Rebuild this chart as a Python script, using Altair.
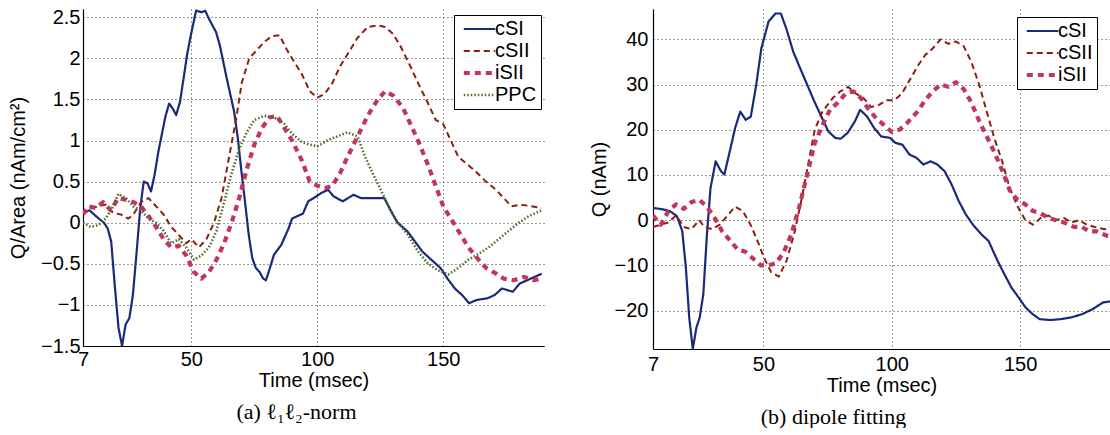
import altair as alt
import pandas as pd

FONT = "Liberation Sans, Arial, Helvetica, sans-serif"
SERIF = "Liberation Serif, DejaVu Serif, serif"

TIME_TICKS = [7, 50, 100, 150]
A_Y_TICKS = [-1.5, -1, -0.5, 0, 0.5, 1, 1.5, 2, 2.5]
B_Y_TICKS = [-20, -10, 0, 10, 20, 30, 40]
SERIES_A = ["cSI", "cSII", "iSII", "PPC"]
SERIES_B = ["cSI", "cSII", "iSII"]

COLORS = {"cSI": "#1b2a78", "cSII": "#8e1d12", "iSII": "#c2355f", "PPC": "#4f6d2c"}
DASHES = {"cSI": [1, 0], "cSII": [6, 4], "iSII": [6, 5], "PPC": [1.5, 2]}
WIDTHS = {"cSI": 2.2, "cSII": 2.0, "iSII": 4.2, "PPC": 2.6}

# (a) l1l2-norm : (time msec, Q/Area nAm/cm^2)
A_cSI = [(7, 0.13), (9.6, 0.15), (12.5, 0.07), (15.3, 0.0), (16.8, -0.07), (18.2, -0.23),
         (19.6, -0.76), (21.1, -1.28), (22.5, -1.5), (23.9, -1.24), (25.4, -1.16), (26.8, -0.88),
         (28.2, -0.39), (29.7, 0.17), (31.1, 0.5), (32.6, 0.48), (34.0, 0.38), (35.4, 0.58),
         (36.9, 0.86), (39.7, 1.29), (41.2, 1.45), (42.6, 1.39), (44.0, 1.31), (45.5, 1.47),
         (46.9, 1.75), (48.3, 2.04), (49.8, 2.28), (51.9, 2.58), (54.1, 2.56), (55.5, 2.58),
         (57.0, 2.48), (59.8, 2.32), (61.3, 2.16), (64.1, 1.75), (67.0, 1.35), (68.5, 1.02),
         (69.9, 0.62), (71.3, 0.26), (72.8, -0.15), (74.2, -0.43), (75.6, -0.55), (77.1, -0.6),
         (78.5, -0.68), (79.6, -0.7), (80.7, -0.6), (82.8, -0.39), (85.7, -0.27), (88.6, -0.07),
         (90.0, 0.05), (91.4, 0.07), (94.3, 0.11), (96.4, 0.26), (98.6, 0.3), (101.5, 0.36),
         (104.3, 0.4), (106.5, 0.32), (110.1, 0.26), (114.4, 0.34), (117.3, 0.3), (121.6, 0.3),
         (126.6, 0.3), (128.8, 0.17), (131.6, 0.01), (135.9, -0.11), (138.8, -0.23),
         (141.7, -0.35), (144.5, -0.43), (148.9, -0.55), (151.7, -0.68), (154.6, -0.8),
         (157.5, -0.88), (160.3, -0.98), (163.2, -0.94), (167.5, -0.92), (170.4, -0.88),
         (173.3, -0.8), (177.6, -0.84), (180.4, -0.74), (183.3, -0.7), (186.2, -0.66),
         (189.1, -0.62)]
A_cSII = [(7, 0.1), (10, 0.17), (13, 0.2), (16, 0.22), (19, 0.12), (22, 0.1), (25, 0.05),
          (27, 0.1), (30, 0.25), (33, 0.3), (36, 0.2), (39, 0.1), (42, -0.05), (45, -0.15),
          (48, -0.25), (50, -0.2), (53, -0.3), (56, -0.2), (59, 0.0), (62, 0.3), (65, 0.8),
          (68, 1.3), (70, 1.7), (73, 2.0), (76, 2.1), (79, 2.2), (82, 2.27), (85, 2.28),
          (88, 2.1), (91, 1.95), (94, 1.8), (97, 1.6), (100, 1.52), (103, 1.57), (106, 1.7),
          (109, 1.9), (112, 2.05), (116, 2.25), (120, 2.38), (124, 2.4), (127, 2.38),
          (130, 2.3), (133, 2.15), (137, 1.9), (140, 1.7), (144, 1.45), (147, 1.25),
          (150, 1.2), (153, 1.0), (156, 0.8), (160, 0.7), (163, 0.62), (167, 0.5), (171, 0.4),
          (174, 0.3), (177, 0.2), (181, 0.22), (185, 0.2), (189, 0.18)]
A_iSII = [(7, 0.1), (9, 0.2), (12, 0.18), (15, 0.25), (18, 0.15), (21, 0.3), (24, 0.28),
          (27, 0.25), (30, 0.2), (33, 0.08), (36, -0.05), (39, -0.2), (42, -0.3), (45, -0.28),
          (48, -0.4), (51, -0.6), (54, -0.68), (57, -0.6), (60, -0.45), (63, -0.25), (66, 0.0),
          (69, 0.3), (72, 0.65), (75, 0.95), (78, 1.15), (81, 1.28), (84, 1.3), (87, 1.15),
          (90, 1.0), (94, 0.75), (97, 0.5), (100, 0.45), (103, 0.42), (106, 0.45), (109, 0.6),
          (112, 0.8), (116, 1.05), (120, 1.3), (124, 1.5), (127, 1.6), (130, 1.55), (134, 1.4),
          (137, 1.2), (140, 1.0), (144, 0.7), (147, 0.45), (150, 0.2), (154, 0.0), (157, -0.15),
          (160, -0.3), (164, -0.45), (167, -0.55), (171, -0.62), (174, -0.68), (178, -0.7),
          (182, -0.66), (186, -0.7), (189, -0.68)]
A_PPC = [(7, 0.0), (10, -0.05), (13, -0.03), (16, 0.05), (19, 0.2), (21, 0.35), (24, 0.3),
         (27, 0.2), (30, 0.15), (33, 0.05), (36, 0.0), (39, -0.1), (42, -0.25), (45, -0.2),
         (48, -0.3), (51, -0.45), (54, -0.4), (57, -0.3), (60, -0.1), (63, 0.25), (66, 0.6),
         (69, 0.9), (72, 1.1), (75, 1.25), (79, 1.3), (83, 1.28), (87, 1.2), (90, 1.08),
         (94, 0.98), (97, 0.95), (100, 0.93), (104, 1.0), (108, 1.05), (112, 1.1), (116, 1.05),
         (119, 0.8), (122, 0.6), (126, 0.35), (129, 0.15), (132, 0.0), (136, -0.15),
         (140, -0.35), (144, -0.5), (148, -0.58), (152, -0.63), (156, -0.55), (160, -0.45),
         (164, -0.38), (168, -0.3), (172, -0.2), (176, -0.1), (180, 0.0), (184, 0.08),
         (189, 0.15)]

# (b) dipole fitting : (time msec, Q nAm)
B_cSI = [(7, 2.7), (10.8, 2.4), (13.6, 2.0), (16.3, 0.9), (18.4, -2.4), (19.8, -10.5),
         (21.1, -21.5), (22.5, -28.5), (23.9, -23.8), (25.2, -21.5), (26.6, -16.4), (28, -3.2),
         (29.4, 7.1), (31.4, 13.0), (33.5, 10.8), (34.8, 10.1), (36.9, 15.2), (39, 20.4),
         (41, 24.0), (43.1, 22.2), (45.1, 22.9), (47.2, 29.9), (49.2, 38.0), (52, 43.9),
         (54.7, 45.7), (56.8, 45.7), (58.9, 42.4), (61.6, 37.3), (64.3, 33.6), (67.1, 29.9),
         (69.8, 26.3), (72.6, 22.9), (75.3, 19.6), (78, 18.2), (80.1, 18.0), (82.8, 19.3),
         (85.6, 21.8), (87.7, 24.4), (90.4, 22.9), (93.1, 20.4), (95.9, 18.5), (99.3, 18.2),
         (101.4, 17.1), (104.1, 16.7), (106.9, 14.5), (109.6, 13.8), (112.3, 12.3),
         (115.1, 13.0), (117.8, 12.3), (120.6, 10.8), (123.3, 7.9), (126.1, 4.2), (128.8, 1.3),
         (131.6, -1.0), (135, -3.2), (137.7, -4.6), (141.2, -9.0), (143.9, -12.0),
         (146.6, -14.9), (149.4, -17.1), (152.1, -19.3), (154.9, -20.8), (157.6, -21.9),
         (161.7, -22.1), (165.8, -21.9), (170, -21.5), (174.1, -20.8), (178.2, -19.7),
         (182.3, -18.2), (186.1, -17.9), (190, -17.5)]
B_cSII = [(7, -1.5), (10, -1.0), (13, -0.5), (16, 1.0), (19, -1.5), (22, -2.0), (25, 0.0),
          (27, -1.5), (30, -2.0), (33, -1.0), (36, 1.0), (39, 3.0), (42, 2.0), (45, -1.0),
          (48, -5.0), (50, -8.0), (53, -11.5), (56, -12.5), (59, -9.0), (62, -3.0), (65, 5.0),
          (68, 14.0), (70, 20.0), (73, 24.0), (77, 27.0), (80, 28.5), (83, 29.5), (86, 28.0),
          (89, 27.0), (92, 25.0), (95, 25.5), (98, 26.5), (101, 26.5), (104, 28.0), (107, 31.0),
          (110, 34.0), (113, 36.5), (116, 38.0), (119, 40.0), (122, 39.0), (125, 39.5),
          (128, 38.5), (131, 35.0), (134, 30.0), (137, 24.0), (140, 18.0), (143, 13.0),
          (146, 7.0), (149, 3.0), (152, 0.0), (155, -1.0), (158, 0.5), (161, 1.0), (164, 0.0),
          (167, 0.5), (170, -0.5), (173, 0.0), (176, -1.0), (179, -1.5), (183, -2.0),
          (186, -1.5), (190, -3.0)]
B_iSII = [(7, 1.0), (10, -1.0), (13, 2.0), (16, 3.5), (19, 2.5), (22, 4.0), (25, 4.5),
          (28, 3.0), (31, 0.5), (34, -2.5), (37, -4.5), (40, -6.5), (43, -7.0), (46, -8.5),
          (49, -10.0), (52, -10.0), (55, -9.5), (58, -7.0), (61, -3.0), (64, 3.0), (67, 10.0),
          (70, 17.0), (73, 21.0), (76, 24.5), (79, 26.0), (82, 28.0), (85, 28.5), (88, 27.0),
          (91, 24.5), (94, 22.5), (97, 21.0), (100, 19.5), (103, 20.0), (106, 21.5),
          (110, 24.0), (113, 26.5), (116, 28.5), (119, 30.0), (122, 29.5), (125, 30.5),
          (128, 29.0), (131, 26.0), (134, 22.0), (137, 18.5), (140, 15.0), (143, 11.0),
          (146, 6.5), (149, 4.5), (152, 3.5), (155, 2.0), (158, 1.5), (161, 0.5), (164, 0.0),
          (167, -0.5), (171, -1.5), (174, -1.5), (177, -2.5), (180, -2.5), (184, -3.5),
          (188, -4.0), (190, -4.5)]


def frame(groups):
    rows = []
    for name, pts in groups:
        for t, v in pts:
            rows.append({"t": t, "v": v, "series": name})
    return pd.DataFrame(rows)


df_a = frame([("cSI", A_cSI), ("cSII", A_cSII), ("iSII", A_iSII), ("PPC", A_PPC)])
df_b = frame([("cSI", B_cSI), ("cSII", B_cSII), ("iSII", B_iSII)])


def panel(df, series, xmax, ydom, yticks, yfmt, ytitle, w, h, legx, legy,
          caption, cap_dx, cap_off, ylabpad, ytitlepad, xlabpad, xtitlepad):
    leg = alt.Legend(
        title=None, orient="none", legendX=legx, legendY=legy,
        symbolType="M-0.8,0L5.2,0", symbolSize=110,
        labelFont=FONT, labelFontSize=20, labelColor="black", labelOffset=17,
        strokeColor="black", fillColor="white", padding=4, rowPadding=2,
        cornerRadius=0,
    )
    x_axis = alt.Axis(values=TIME_TICKS, title="Time (msec)", labelPadding=xlabpad,
                      titlePadding=xtitlepad, labelFlush=False, labelOverlap=False,
                      grid=True)
    y_axis = alt.Axis(values=yticks, format=yfmt, title=ytitle, labelPadding=ylabpad,
                      titlePadding=ytitlepad, labelFlush=False, labelOverlap=False,
                      grid=True)
    return alt.Chart(df).mark_line(clip=True, strokeCap="butt", strokeJoin="round").encode(
        x=alt.X("t:Q", scale=alt.Scale(domain=[7, xmax], nice=False, zero=False), axis=x_axis),
        y=alt.Y("v:Q", scale=alt.Scale(domain=ydom, nice=False, zero=False), axis=y_axis),
        color=alt.Color("series:O", scale=alt.Scale(type="ordinal", domain=series,
                        range=[COLORS[s] for s in series]), legend=leg),
        strokeDash=alt.StrokeDash("series:O", scale=alt.Scale(type="ordinal", domain=series,
                                  range=[DASHES[s] for s in series]), legend=leg),
        strokeWidth=alt.StrokeWidth("series:O", scale=alt.Scale(type="ordinal", domain=series,
                                    range=[WIDTHS[s] for s in series]), legend=leg),
    ).properties(
        width=w, height=h,
        title=alt.TitleParams(caption, orient="bottom", font=SERIF, fontSize=22,
                              fontWeight="normal", color="black", frame="group",
                              anchor="middle", dx=cap_dx, offset=cap_off),
    )


left = panel(df_a, SERIES_A, 190, [-1.5, 2.6], A_Y_TICKS, "~g", "Q/Area (nAm/cm²)",
             461, 337, 371, 6, "(a) ℓ₁ℓ₂-norm", -17, 12, 3, 12, 3, 1)
right = panel(df_b, SERIES_B, 185, [-28.5, 46.7], B_Y_TICKS, "d", "Q (nAm)",
              457, 340, 364, 8, "(b) dipole fitting", -48, 12, 5, 5, 5, 1)

chart = alt.hconcat(left, right, spacing=45).resolve_scale(
    x="independent", y="independent", color="independent",
    strokeDash="independent", strokeWidth="independent",
).resolve_legend(
    color="independent", strokeDash="independent", strokeWidth="independent",
).properties(
    padding={"left": 8, "top": 7, "right": 0, "bottom": 0},
    background="white",
).configure_view(stroke=None).configure_axis(
    labelFont=FONT, labelFontSize=20, labelColor="black",
    titleFont=FONT, titleFontSize=20, titleFontWeight="normal", titleColor="black",
    domainColor="black", domainWidth=1.2, ticks=False,
    gridColor="#333333", gridDash=[1, 3], gridWidth=1, gridOpacity=1,
)

chart.save("out.html", embed_options={"renderer": "svg", "actions": False})
